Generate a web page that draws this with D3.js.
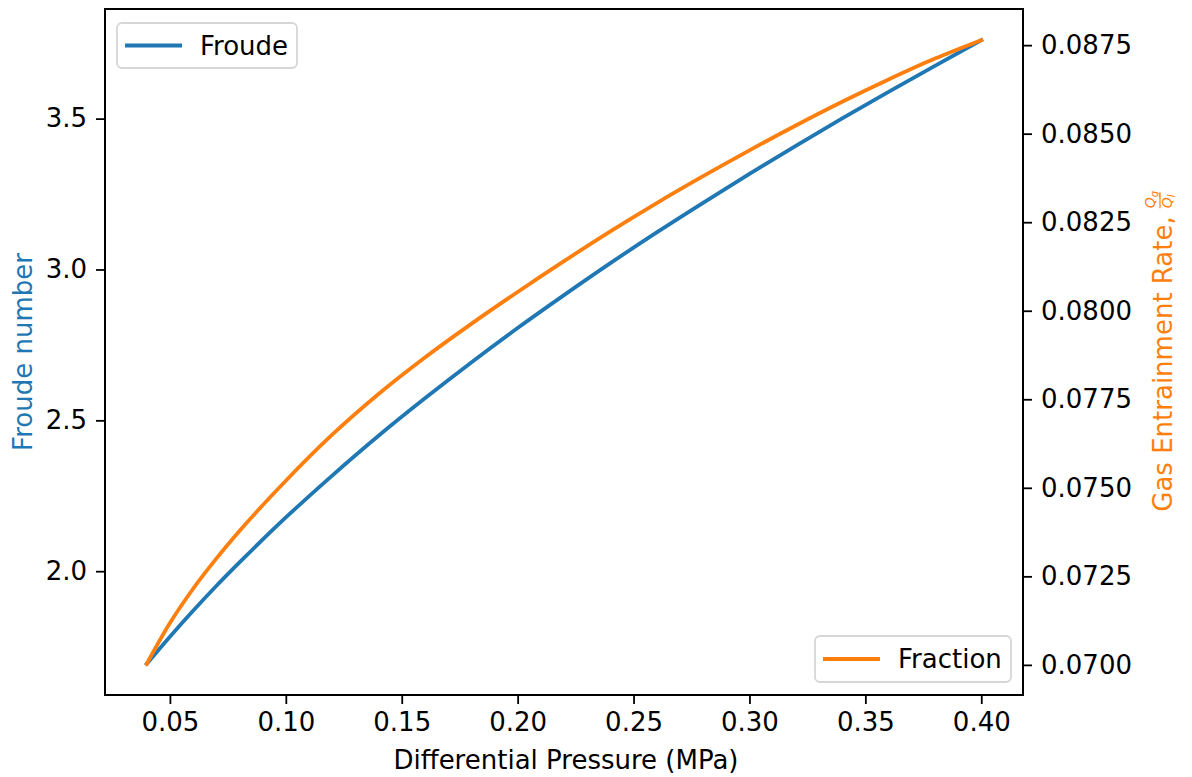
<!DOCTYPE html>
<html>
<head>
<meta charset="utf-8">
<script src="https://cdn.jsdelivr.net/npm/d3@7"></script>
<style>
  html, body { margin: 0; padding: 0; background: #fff; }
  svg { display: block; font-family: "DejaVu Sans", sans-serif; }
</style>
</head>
<body>
<svg id="chart" width="1192" height="777"></svg>
<script>
// ---- data ----
const pressure = [0.04, 0.05, 0.06, 0.07, 0.08, 0.10, 0.12, 0.14, 0.16, 0.18, 0.20,
                  0.22, 0.24, 0.26, 0.28, 0.30, 0.32, 0.34, 0.36, 0.38, 0.40];
const froude = [1.693, 1.783, 1.869, 1.951, 2.029, 2.178, 2.317, 2.449, 2.573, 2.692, 2.806,
                2.915, 3.021, 3.123, 3.221, 3.317, 3.410, 3.501, 3.589, 3.675, 3.760];
const fraction = [0.07003, 0.07118, 0.07215, 0.07300, 0.07378, 0.07520, 0.07650, 0.07765, 0.07868, 0.07963, 0.08053,
                  0.08140, 0.08224, 0.08304, 0.08380, 0.08453, 0.08523, 0.08590, 0.08653, 0.08712, 0.08764];
const xTicks = [0.05, 0.10, 0.15, 0.20, 0.25, 0.30, 0.35, 0.40];
const yLeftTicks = [2.0, 2.5, 3.0, 3.5];
const yRightTicks = [0.0700, 0.0725, 0.0750, 0.0775, 0.0800, 0.0825, 0.0850, 0.0875];

const blue = "#1f77b4", orange = "#ff7f0e";
const L = 105, R = 1023, T = 9, B = 695;
const FS = 26;

function padded(arr) {
  const [a, b] = d3.extent(arr);
  const m = (b - a) * 0.05;
  return [a - m, b + m];
}

const svg = d3.select("#chart");
const x = d3.scaleLinear().domain(padded(pressure)).range([L, R]);
const yL = d3.scaleLinear().domain(padded(froude)).range([B, T]);
const yR = d3.scaleLinear().domain(padded(fraction)).range([B, T]);

function styleAxis(g) {
  g.selectAll("path.domain").remove();
  g.selectAll(".tick line").attr("stroke", "#000").attr("stroke-width", 1.8);
  g.selectAll(".tick text").attr("fill", "#000").style("font-size", FS + "px")
    .style("font-family", "DejaVu Sans, sans-serif");
}

// axes
svg.append("g").attr("transform", `translate(0,${B})`)
  .call(d3.axisBottom(x).tickValues(xTicks).tickFormat(d3.format(".2f")).tickSizeOuter(0).tickSize(9).tickPadding(9))
  .call(styleAxis);
svg.append("g").attr("transform", `translate(${L},0)`)
  .call(d3.axisLeft(yL).tickValues(yLeftTicks).tickFormat(d3.format(".1f")).tickSizeOuter(0).tickSize(9).tickPadding(9))
  .call(styleAxis);
svg.append("g").attr("transform", `translate(${R},0)`)
  .call(d3.axisRight(yR).tickValues(yRightTicks).tickFormat(d3.format(".4f")).tickSizeOuter(0).tickSize(9).tickPadding(9))
  .call(styleAxis);

// lines
const lineF = d3.line().x((d, i) => x(pressure[i])).y(d => yL(d)).curve(d3.curveMonotoneX);
const lineQ = d3.line().x((d, i) => x(pressure[i])).y(d => yR(d)).curve(d3.curveMonotoneX);
svg.append("path").datum(froude).attr("d", lineF).attr("fill", "none")
  .attr("stroke", blue).attr("stroke-width", 3.8).attr("stroke-linecap", "square");
svg.append("path").datum(fraction).attr("d", lineQ).attr("fill", "none")
  .attr("stroke", orange).attr("stroke-width", 3.8).attr("stroke-linecap", "square");

// frame
svg.append("rect").attr("x", L).attr("y", T).attr("width", R - L).attr("height", B - T)
  .attr("fill", "none").attr("stroke", "#000").attr("stroke-width", 2);

// legends
function legend(x0, y0, w, h, color, label) {
  const g = svg.append("g");
  g.append("rect").attr("x", x0).attr("y", y0).attr("width", w).attr("height", h)
    .attr("rx", 5).attr("fill", "#fff").attr("fill-opacity", 0.8)
    .attr("stroke", "#d6d6d6").attr("stroke-width", 1.8);
  g.append("line").attr("x1", x0 + 8).attr("x2", x0 + 65).attr("y1", y0 + h / 2).attr("y2", y0 + h / 2)
    .attr("stroke", color).attr("stroke-width", 3.8);
  g.append("text").attr("x", x0 + 83).attr("y", y0 + h / 2 + 9).text(label)
    .style("font-size", FS + "px").attr("fill", "#000");
}
legend(117, 23, 180, 45, blue, "Froude");
legend(815, 636, 196, 46, orange, "Fraction");

// x label
svg.append("text").attr("x", (L + R) / 2 + 2).attr("y", 769).attr("text-anchor", "middle")
  .style("font-size", FS + "px").attr("fill", "#000").text("Differential Pressure (MPa)");

// left label
svg.append("text").attr("transform", `translate(32,${(T + B) / 2}) rotate(-90)`)
  .attr("text-anchor", "middle").style("font-size", FS + "px").attr("fill", blue).text("Froude number");

// right label with fraction
const rg = svg.append("g").attr("transform", `translate(1172,${(T + B) / 2}) rotate(-90)`);
const main = rg.append("text").style("font-size", FS + "px").attr("fill", orange).text("Gas Entrainment Rate,");
const mw = main.node().getComputedTextLength();
const gap = 8;
const fracW = 16;
const total = mw + gap + fracW;
main.attr("x", -total / 2).attr("y", 0);
const fx = -total / 2 + mw + gap;
const fg = rg.append("g").attr("fill", orange);
const num = fg.append("text").attr("x", fx).attr("y", -17).style("font-size", "14px").style("font-style", "italic");
num.append("tspan").text("Q");
num.append("tspan").attr("dy", 3).style("font-size", "10px").text("g");
fg.append("line").attr("x1", fx).attr("x2", fx + fracW).attr("y1", -12).attr("y2", -12)
  .attr("stroke", orange).attr("stroke-width", 1.2);
const den = fg.append("text").attr("x", fx).attr("y", 0).style("font-size", "14px").style("font-style", "italic");
den.append("tspan").text("Q");
den.append("tspan").attr("dy", 3).style("font-size", "10px").text("l");
</script>
</body>
</html>
